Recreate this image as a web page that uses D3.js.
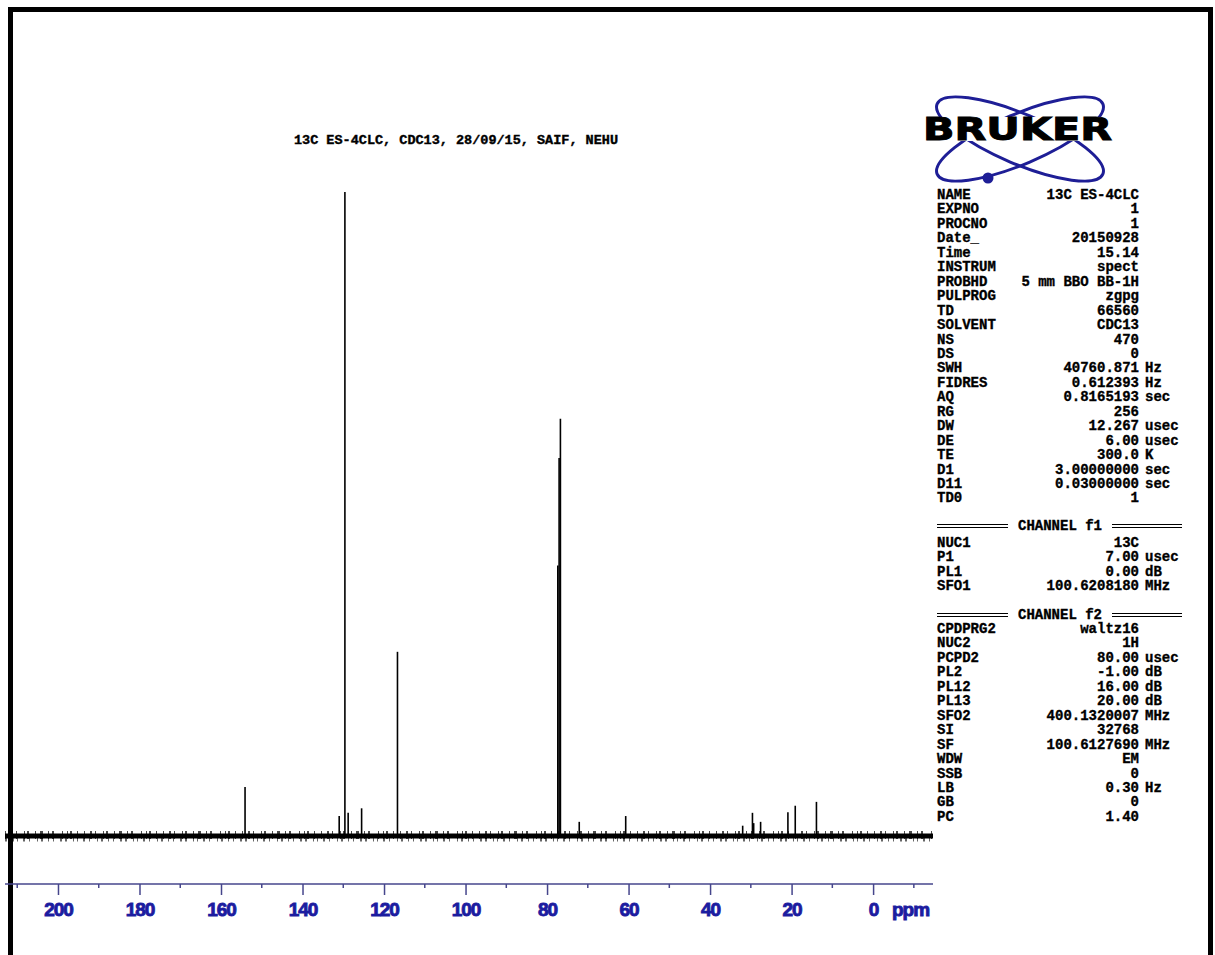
<!DOCTYPE html>
<html><head><meta charset="utf-8">
<script src="https://cdn.jsdelivr.net/npm/d3@7"></script>
<style>body{margin:0;background:#fff}svg{display:block}</style>
</head><body>
<svg id="c" width="1215" height="955"></svg>
<script>
// ---- data ----
const title = "13C ES-4CLC, CDC13, 28/09/15, SAIF, NEHU";
const peakPpm = [154.1, 131.0, 129.6, 128.8, 125.5, 116.7, 77.36, 77.04, 76.72, 72.1, 60.7, 32.0, 29.6, 29.3, 27.6, 20.9, 19.1, 13.9];
const peakIntensity = [7.6, 3.1, 100, 3.6, 4.3, 28.6, 42, 58.7, 64.8, 2.2, 3.1, 1.6, 3.6, 2.0, 2.2, 3.7, 4.7, 5.3];
const majorTicks = [200, 180, 160, 140, 120, 100, 80, 60, 40, 20, 0];
const minorTicks = [210, 190, 170, 150, 130, 110, 90, 70, 50, 30, 10, -10];
const params1 = [
 ["NAME","13C ES-4CLC",""],["EXPNO","1",""],["PROCNO","1",""],["Date_","20150928",""],["Time","15.14",""],
 ["INSTRUM","spect",""],["PROBHD","5 mm BBO BB-1H",""],["PULPROG","zgpg",""],["TD","66560",""],["SOLVENT","CDC13",""],
 ["NS","470",""],["DS","0",""],["SWH","40760.871","Hz"],["FIDRES","0.612393","Hz"],["AQ","0.8165193","sec"],
 ["RG","256",""],["DW","12.267","usec"],["DE","6.00","usec"],["TE","300.0","K"],["D1","3.00000000","sec"],
 ["D11","0.03000000","sec"],["TD0","1",""]];
const params2 = [["NUC1","13C",""],["P1","7.00","usec"],["PL1","0.00","dB"],["SFO1","100.6208180","MHz"]];
const params3 = [["CPDPRG2","waltz16",""],["NUC2","1H",""],["PCPD2","80.00","usec"],["PL2","-1.00","dB"],
 ["PL12","16.00","dB"],["PL13","20.00","dB"],["SFO2","400.1320007","MHz"],["SI","32768",""],
 ["SF","100.6127690","MHz"],["WDW","EM",""],["SSB","0",""],["LB","0.30","Hz"],["GB","0",""],["PC","1.40",""]];

// ---- drawing ----
const svg = d3.select("#c");
svg.append("rect").attr("x",10.5).attr("y",9.5).attr("width",1200).attr("height",960)
  .attr("fill","none").attr("stroke","#000").attr("stroke-width",5);

const x = d3.scaleLinear().domain([213, -14.7]).range([5, 933]);
const y = d3.scaleLinear().domain([0, 100]).range([836, 192]);

// baseline (noise band)
svg.append("line").attr("x1",x(213)).attr("x2",x(-14.7)).attr("y1",y(0)).attr("y2",y(0))
  .attr("stroke","#000").attr("stroke-width",5);
svg.append("line").attr("x1",x(213)).attr("x2",x(-14.7)).attr("y1",y(0)-1).attr("y2",y(0)-1)
  .attr("stroke","#000").attr("stroke-width",8)
  .attr("stroke-dasharray","1 5 2 3 1 7 1 2 2 6 1 4 3 5 1 3 2 8 1 4 1 2 2 5 1 6")
  .attr("opacity",0.7);
svg.append("line").attr("x1",x(213)).attr("x2",x(-14.7)).attr("y1",y(0)+2).attr("y2",y(0)+2)
  .attr("stroke","#000").attr("stroke-width",7)
  .attr("stroke-dasharray","2 6 1 3 1 5 2 4 1 7 1 3 2 5 1 4 1 6 2 3")
  .attr("opacity",0.6);
// peaks
svg.append("g").selectAll("line").data(peakPpm).join("line")
  .attr("x1",d=>x(d)).attr("x2",d=>x(d))
  .attr("y1",y(0)).attr("y2",(d,i)=>y(peakIntensity[i]))
  .attr("stroke","#000").attr("stroke-width",1.6);

// axis
const axisY = 884, axisCol = "#46468c", labCol = "#1c1ca0";
svg.append("line").attr("x1",5).attr("x2",933).attr("y1",axisY).attr("y2",axisY)
  .attr("stroke",axisCol).attr("stroke-width",1.5);
const ax = d3.axisBottom(x).tickValues(majorTicks).tickSize(11).tickFormat(d3.format("d"));
const gA = svg.append("g").attr("transform",`translate(0,${axisY})`).call(ax);
gA.select(".domain").remove();
gA.selectAll(".tick line").attr("stroke",axisCol).attr("stroke-width",1.5);
gA.selectAll(".tick text").attr("fill",labCol).attr("stroke",labCol).attr("stroke-width",0.9)
  .attr("font-family","Liberation Sans, Arial, sans-serif")
  .attr("font-weight","bold").attr("font-size",19).attr("dy",0).attr("y",32).attr("letter-spacing","-1");
svg.append("g").selectAll("line").data(minorTicks).join("line")
  .attr("x1",d=>x(d)).attr("x2",d=>x(d)).attr("y1",axisY).attr("y2",axisY+4)
  .attr("stroke",axisCol).attr("stroke-width",1.5);
svg.append("text").attr("x",892).attr("y",916).text("ppm").attr("fill",labCol).attr("stroke",labCol).attr("stroke-width",0.9)
  .attr("font-family","Liberation Sans, Arial, sans-serif").attr("font-weight","bold").attr("font-size",19)
  .attr("letter-spacing","-1");

// title
svg.append("text").attr("x",456).attr("y",144).attr("text-anchor","middle").text(title)
  .attr("font-family","Liberation Mono, monospace").attr("font-weight","bold").attr("font-size",13.5)
  .attr("stroke","#000").attr("stroke-width",0.4);

// logo
const lc = "#1e1e96";
const lg = svg.append("g").attr("transform","translate(1020,139)");
lg.append("ellipse").attr("rx",90).attr("ry",25).attr("transform","rotate(23)")
  .attr("fill","none").attr("stroke",lc).attr("stroke-width",3);
lg.append("ellipse").attr("rx",90).attr("ry",25).attr("transform","rotate(-23)")
  .attr("fill","none").attr("stroke",lc).attr("stroke-width",3);
lg.append("circle").attr("cx",-32).attr("cy",39).attr("r",5.5).attr("fill",lc);
svg.append("rect").attr("x",918).attr("y",117).attr("width",200).attr("height",24).attr("fill","#fff");
svg.append("text").attr("x",923).attr("y",140).text("BRUKER").attr("textLength",189).attr("lengthAdjust","spacingAndGlyphs")
  .attr("font-family","DejaVu Sans, sans-serif").attr("font-weight","bold").attr("font-size",32)
  .attr("stroke","#000").attr("stroke-width",1);

// parameters
const pf = "Liberation Mono, monospace";
function rows(data, y0, step){
  const g = svg.append("g").attr("font-family",pf).attr("font-weight","bold").attr("font-size",14)
    .attr("stroke","#000").attr("stroke-width",0.35);
  data.forEach((r,i)=>{
    const yy = y0 + i*step;
    g.append("text").attr("x",937).attr("y",yy).text(r[0]);
    g.append("text").attr("x",1139).attr("y",yy).attr("text-anchor","end").text(r[1]);
    if(r[2]) g.append("text").attr("x",1145).attr("y",yy).text(r[2]);
  });
}
rows(params1, 199, 14.45);
rows(params2, 547, 14.45);
rows(params3, 633, 14.45);
function channel(label, yy){
  const g = svg.append("g");
  [-1.5,1.5].forEach(o=>{
    g.append("line").attr("x1",937).attr("x2",1008).attr("y1",yy+o).attr("y2",yy+o).attr("stroke","#000");
    g.append("line").attr("x1",1112).attr("x2",1182).attr("y1",yy+o).attr("y2",yy+o).attr("stroke","#000");
  });
  g.append("text").attr("x",1060).attr("y",yy+4).attr("text-anchor","middle").text(label)
   .attr("font-family",pf).attr("font-weight","bold").attr("font-size",14)
   .attr("stroke","#000").attr("stroke-width",0.35);
}
channel("CHANNEL f1", 526);
channel("CHANNEL f2", 615);
</script>
</body></html>
